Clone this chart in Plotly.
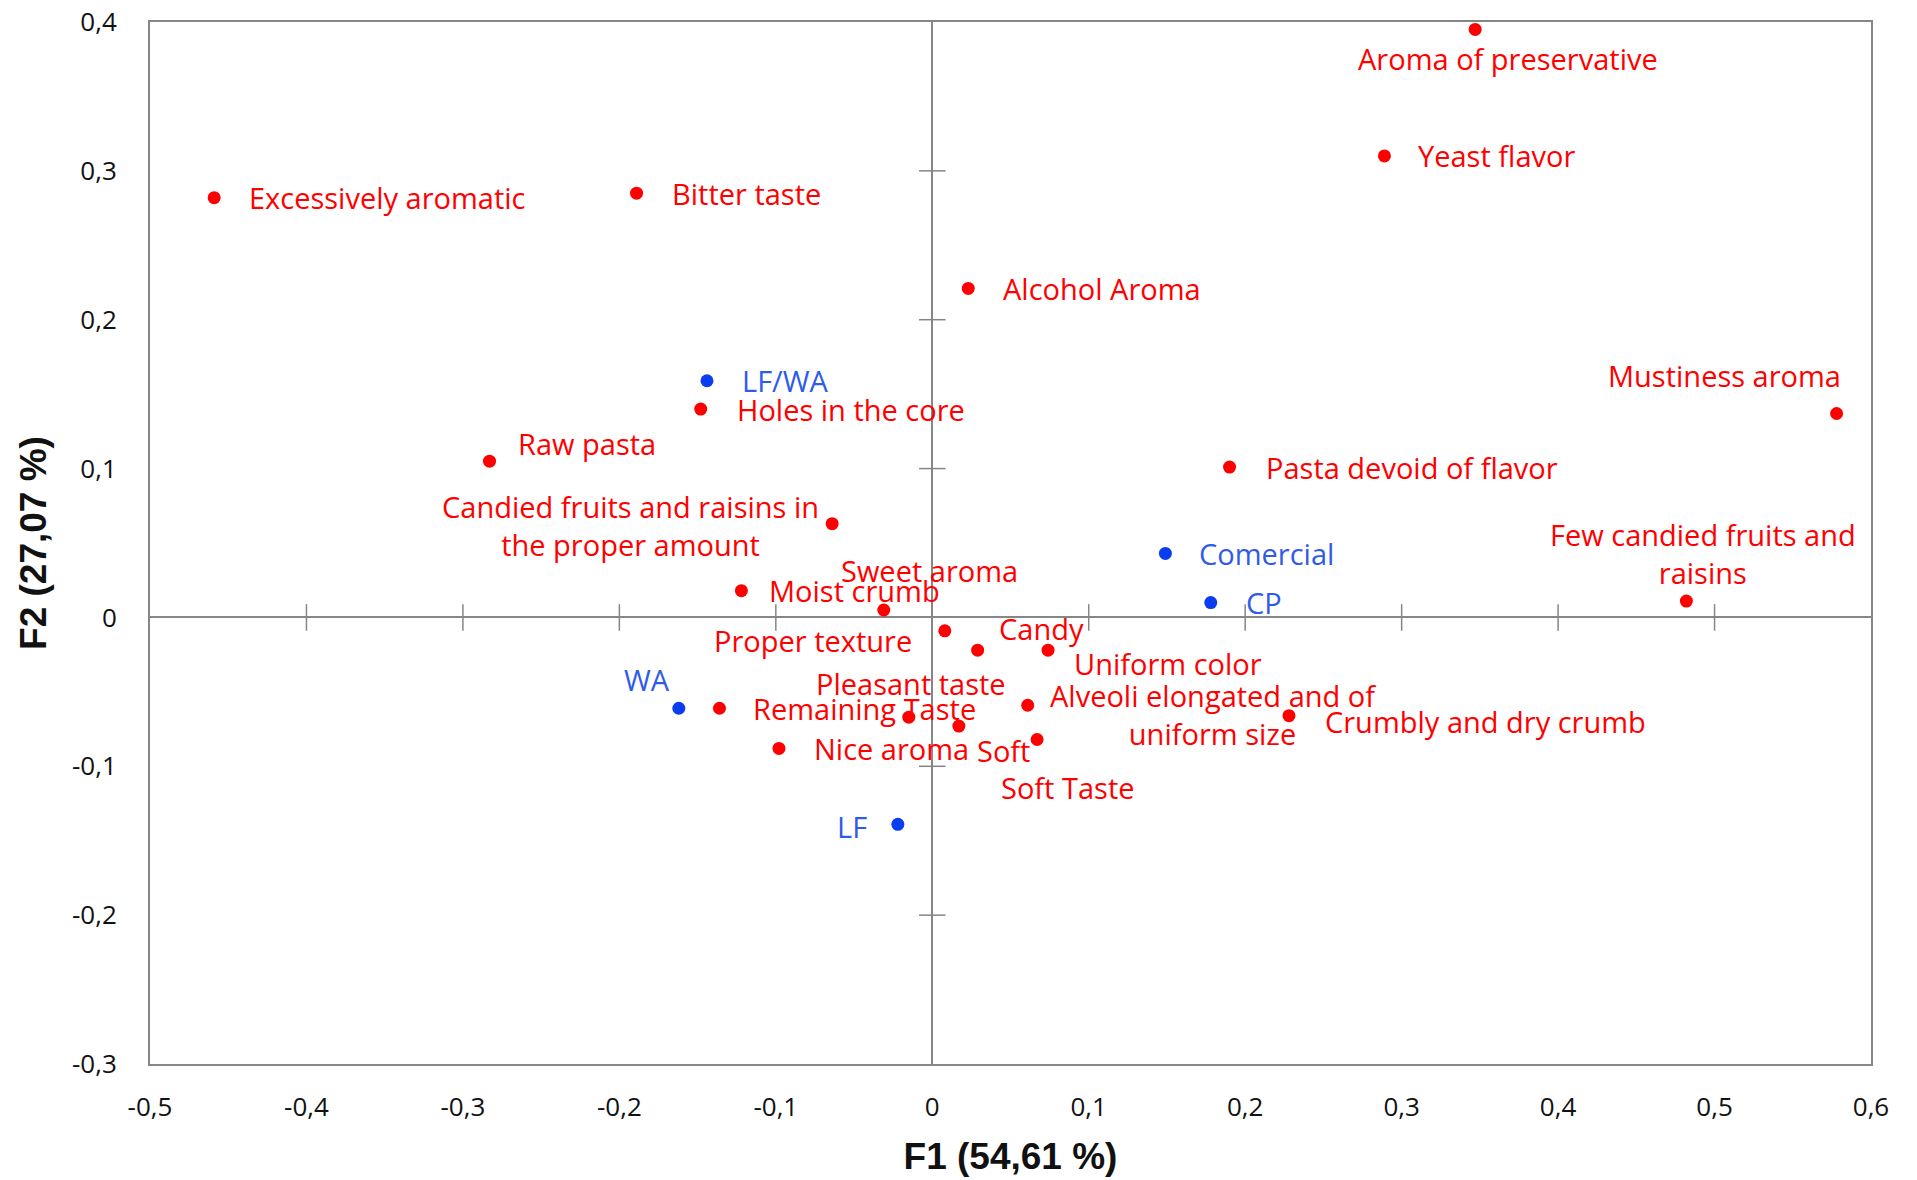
import plotly.graph_objects as go

# ---------------- data ----------------
attr_names = [
    "Aroma of preservative", "Yeast flavor", "Excessively aromatic", "Bitter taste",
    "Alcohol Aroma", "Mustiness aroma", "Holes in the core", "Raw pasta",
    "Pasta devoid of flavor", "Candied fruits and raisins in<br>the proper amount",
    "Few candied fruits and<br>raisins", "Moist crumb", "Sweet aroma", "Proper texture",
    "Candy", "Uniform color", "Remaining Taste", "Pleasant taste",
    "Alveoli elongated and of<br>uniform size", "Crumbly and dry crumb", "Soft",
    "Soft Taste", "Nice aroma",
]
attr_f1 = [0.347, 0.289, -0.459, -0.189, 0.023, 0.578, -0.148, -0.283,
           0.190, -0.064, 0.482, -0.122, -0.031, 0.008, 0.029, 0.074,
           -0.136, -0.015, 0.061, 0.228, 0.017, 0.067, -0.098]
attr_f2 = [0.395, 0.310, 0.282, 0.285, 0.221, 0.137, 0.140, 0.105,
           0.101, 0.063, 0.011, 0.018, 0.005, -0.009, -0.022, -0.022,
           -0.061, -0.067, -0.059, -0.066, -0.073, -0.082, -0.088]

sample_names = ["LF/WA", "Comercial", "CP", "WA", "LF"]
sample_f1 = [-0.144, 0.149, 0.178, -0.162, -0.022]
sample_f2 = [0.159, 0.043, 0.010, -0.061, -0.139]

x_tickvals = [-0.5, -0.4, -0.3, -0.2, -0.1, 0, 0.1, 0.2, 0.3, 0.4, 0.5, 0.6]
x_ticktext = ["-0,5", "-0,4", "-0,3", "-0,2", "-0,1", "0", "0,1", "0,2", "0,3", "0,4", "0,5", "0,6"]
y_tickvals = [-0.3, -0.2, -0.1, 0, 0.1, 0.2, 0.3, 0.4]
y_ticktext = ["-0,3", "-0,2", "-0,1", "0", "0,1", "0,2", "0,3", "0,4"]

x_title = "F1 (54,61 %)"
y_title = "F2 (27,07 %)"

# ---------------- label placement (pixel offsets: anchor, dx, dy-down) ----------------
attr_label_pos = [
    ("center", 33, 29), ("left", 32, 0), ("left", 33, 0), ("left", 33, 0),
    ("left", 33, 0), ("center", -112, -38), ("left", 34, 0), ("left", 26, -18),
    ("left", 34, 0), ("center", -202, 2), ("center", 17, -48), ("left", 26, 0),
    ("center", 46, -39), ("center", -132, 10), ("center", 64, -22), ("left", 24, 13),
    ("left", 32, 0), ("center", 2, -34), ("center", 186, 9), ("left", 34, 6),
    ("center", 45, 24), ("center", 31, 48), ("left", 33, 0),
]
sample_label_pos = [
    ("left", 33, 0), ("left", 32, 0), ("left", 33, 0), ("center", -32, -29), ("center", -46, 2),
]

RED = "#FF0000"
BLUE_PT = "#0A3CF0"
BLUE_TX = "#2F5BEA"
GRAY = "#868686"
LABEL_FONT = "Open Sans, Liberation Sans, sans-serif"
LABEL_SIZE = 29
TITLE_FONT = "Liberation Sans, Arial, sans-serif"

fig = go.Figure()

# cross tick marks on the zero lines
xt = [v for v in x_tickvals if v != 0 and v not in (x_tickvals[0], x_tickvals[-1])]
yt = [v for v in y_tickvals if v != 0 and v not in (y_tickvals[0], y_tickvals[-1])]
fig.add_trace(go.Scatter(
    x=xt, y=[0] * len(xt), mode="markers", hoverinfo="skip", showlegend=False,
    marker=dict(symbol="line-ns", size=19, line=dict(color=GRAY, width=1.5))))
fig.add_trace(go.Scatter(
    x=[0] * len(yt), y=yt, mode="markers", hoverinfo="skip", showlegend=False,
    marker=dict(symbol="line-ew", size=19, line=dict(color=GRAY, width=1.5))))

fig.add_trace(go.Scatter(
    x=attr_f1, y=attr_f2, mode="markers", name="Attributes", showlegend=False,
    marker=dict(color=RED, size=13), text=attr_names))
fig.add_trace(go.Scatter(
    x=sample_f1, y=sample_f2, mode="markers", name="Samples", showlegend=False,
    marker=dict(color=BLUE_PT, size=13), text=sample_names))

annotations = []
for names, xs, ys, pos, col in [
    (attr_names, attr_f1, attr_f2, attr_label_pos, RED),
    (sample_names, sample_f1, sample_f2, sample_label_pos, BLUE_TX),
]:
    for n, x, y, (anc, dx, dy) in zip(names, xs, ys, pos):
        annotations.append(dict(
            x=x, y=y, xref="x", yref="y", text=n, showarrow=False,
            xanchor=anc, yanchor="middle", xshift=dx, yshift=-dy, align="center",
            font=dict(family=LABEL_FONT, size=LABEL_SIZE, color=col)))

fig.update_layout(
    width=1917, height=1180,
    margin=dict(l=150, r=46, t=22, b=116),
    paper_bgcolor="white", plot_bgcolor="white",
    annotations=annotations,
    xaxis=dict(
        range=[-0.5, 0.6], tickvals=x_tickvals, ticktext=x_ticktext,
        showgrid=False, zeroline=True, zerolinecolor=GRAY, zerolinewidth=1.5,
        showline=True, mirror=True, linecolor=GRAY, linewidth=2, ticks="",
        ticklabelstandoff=19, automargin=False,
        tickfont=dict(family=LABEL_FONT, size=26, color="#111111"),
        title=dict(text=x_title, standoff=20,
                   font=dict(family=TITLE_FONT, size=37, color="#111111", weight="bold")),
    ),
    yaxis=dict(
        range=[-0.3, 0.4], tickvals=y_tickvals, ticktext=y_ticktext,
        showgrid=False, zeroline=True, zerolinecolor=GRAY, zerolinewidth=1.5,
        showline=True, mirror=True, linecolor=GRAY, linewidth=2, ticks="",
        ticklabelstandoff=26, automargin=False,
        tickfont=dict(family=LABEL_FONT, size=26, color="#111111"),
        title=dict(text=y_title, standoff=14,
                   font=dict(family=TITLE_FONT, size=37, color="#111111", weight="bold")),
    ),
)

fig.write_html("out.html")
